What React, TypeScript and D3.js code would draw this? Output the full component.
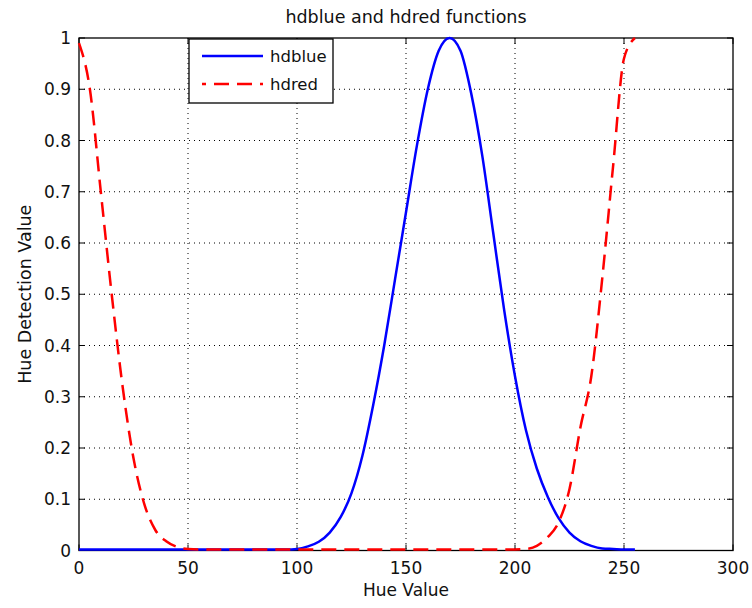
import React from 'react';
import * as d3 from 'd3';

// hue samples (every 5) and values
const hues = [
  0, 5, 10, 15, 20, 25, 30, 35, 40, 45, 50, 55, 60, 65, 70, 75, 80, 85, 90, 95,
  100, 105, 110, 115, 120, 125, 130, 135, 140, 145, 150, 155, 160, 165, 170, 175,
  180, 185, 190, 195, 200, 205, 210, 215, 220, 225, 230, 235, 240, 245, 250, 255,
];

const hdblue = [
  0.002, 0.002, 0.002, 0.002, 0.002, 0.002, 0.002, 0.002, 0.002, 0.002,
  0.002, 0.002, 0.002, 0.002, 0.002, 0.002, 0.002, 0.002, 0.002, 0.002,
  0.003, 0.008, 0.017, 0.035, 0.065, 0.112, 0.185, 0.285, 0.4, 0.53,
  0.66, 0.79, 0.9, 0.975, 1.0, 0.975, 0.89, 0.77, 0.62, 0.47,
  0.34, 0.235, 0.16, 0.105, 0.063, 0.035, 0.018, 0.009, 0.004, 0.003,
  0.002, 0.002,
];

const hdred = [
  0.99, 0.9, 0.7, 0.5, 0.32, 0.18, 0.09, 0.04, 0.018, 0.007,
  0.003, 0.002, 0.002, 0.002, 0.002, 0.002, 0.002, 0.002, 0.002, 0.002,
  0.002, 0.002, 0.002, 0.002, 0.002, 0.002, 0.002, 0.002, 0.002, 0.002,
  0.002, 0.002, 0.002, 0.002, 0.002, 0.002, 0.002, 0.002, 0.002, 0.002,
  0.002, 0.003, 0.009, 0.026, 0.055, 0.12, 0.24, 0.34, 0.53, 0.75,
  0.96, 1.0,
];

const xTicks = [0, 50, 100, 150, 200, 250, 300];
const yTicks = [0, 0.1, 0.2, 0.3, 0.4, 0.5, 0.6, 0.7, 0.8, 0.9, 1];

const series = [
  { name: 'hdblue', values: hdblue, color: '#0000ff', dash: null },
  { name: 'hdred', values: hdred, color: '#ff0000', dash: '15,8' },
];

const W = 752;
const H = 608;
const left = 79;
const right = 733;
const top = 38;
const bottom = 550.5;
const font = '"DejaVu Sans", sans-serif';
const fs = 17;
const labelFs = 17.5;
const tickLen = 6;

export default function App() {
  const x = d3.scaleLinear().domain([0, 300]).range([left, right]);
  const y = d3.scaleLinear().domain([0, 1]).range([bottom, top]);

  const line = d3
    .line<number>()
    .x((_, i) => x(hues[i]))
    .y((d) => y(d))
    .curve(d3.curveMonotoneX);

  return (
    <svg
      width={W}
      height={H}
      style={{ position: 'absolute', left: 0, top: 0, background: '#fff' }}
      fontFamily={font}
    >
      <rect x={0} y={0} width={W} height={H} fill="#fff" />

      {/* grid */}
      {xTicks.slice(1, -1).map((t) => (
        <line
          key={'gx' + t}
          x1={x(t)}
          x2={x(t)}
          y1={top}
          y2={bottom}
          stroke="#000"
          strokeWidth={1}
          strokeDasharray="1,4"
        />
      ))}
      {yTicks.slice(1, -1).map((t) => (
        <line
          key={'gy' + t}
          x1={left}
          x2={right}
          y1={y(t)}
          y2={y(t)}
          stroke="#000"
          strokeWidth={1}
          strokeDasharray="1,4"
        />
      ))}

      {/* box */}
      <rect
        x={left}
        y={top}
        width={right - left}
        height={bottom - top}
        fill="none"
        stroke="#000"
        strokeWidth={1.3}
      />

      {/* ticks */}
      {xTicks.map((t) => (
        <g key={'tx' + t}>
          <line x1={x(t)} x2={x(t)} y1={bottom} y2={bottom - tickLen} stroke="#000" />
          <line x1={x(t)} x2={x(t)} y1={top} y2={top + tickLen} stroke="#000" />
          <text x={x(t)} y={574} textAnchor="middle" fontSize={fs} fill="#111">
            {t}
          </text>
        </g>
      ))}
      {yTicks.map((t) => (
        <g key={'ty' + t}>
          <line x1={left} x2={left + tickLen} y1={y(t)} y2={y(t)} stroke="#000" />
          <line x1={right} x2={right - tickLen} y1={y(t)} y2={y(t)} stroke="#000" />
          <text
            x={71}
            y={y(t)}
            dy="0.36em"
            textAnchor="end"
            fontSize={fs}
            fill="#111"
          >
            {t}
          </text>
        </g>
      ))}

      {/* curves */}
      {series.map((s) => (
        <path
          key={s.name}
          d={line(s.values) || ''}
          fill="none"
          stroke={s.color}
          strokeWidth={2.5}
          strokeDasharray={s.dash || undefined}
        />
      ))}

      {/* labels */}
      <text x={(left + right) / 2} y={23} textAnchor="middle" fontSize={labelFs} fill="#111">
        hdblue and hdred functions
      </text>
      <text x={(left + right) / 2} y={596} textAnchor="middle" fontSize={17} fill="#111">
        Hue Value
      </text>
      <text
        transform={`translate(31,${(top + bottom) / 2}) rotate(-90)`}
        textAnchor="middle"
        fontSize={labelFs}
        fill="#111"
      >
        Hue Detection Value
      </text>

      {/* legend */}
      <g>
        <rect x={189} y={39} width={144} height={64} fill="#fff" stroke="#000" strokeWidth={1.3} />
        {series.map((s, i) => (
          <g key={'lg' + s.name}>
            <line
              x1={202}
              x2={263}
              y1={56 + i * 28}
              y2={56 + i * 28}
              stroke={s.color}
              strokeWidth={2.5}
              strokeDasharray={s.dash || undefined}
              strokeDashoffset={s.dash ? 11 : undefined}
            />
            <text x={270} y={56 + i * 28} dy="0.36em" fontSize={16.5} fill="#111">
              {s.name}
            </text>
          </g>
        ))}
      </g>
    </svg>
  );
}
